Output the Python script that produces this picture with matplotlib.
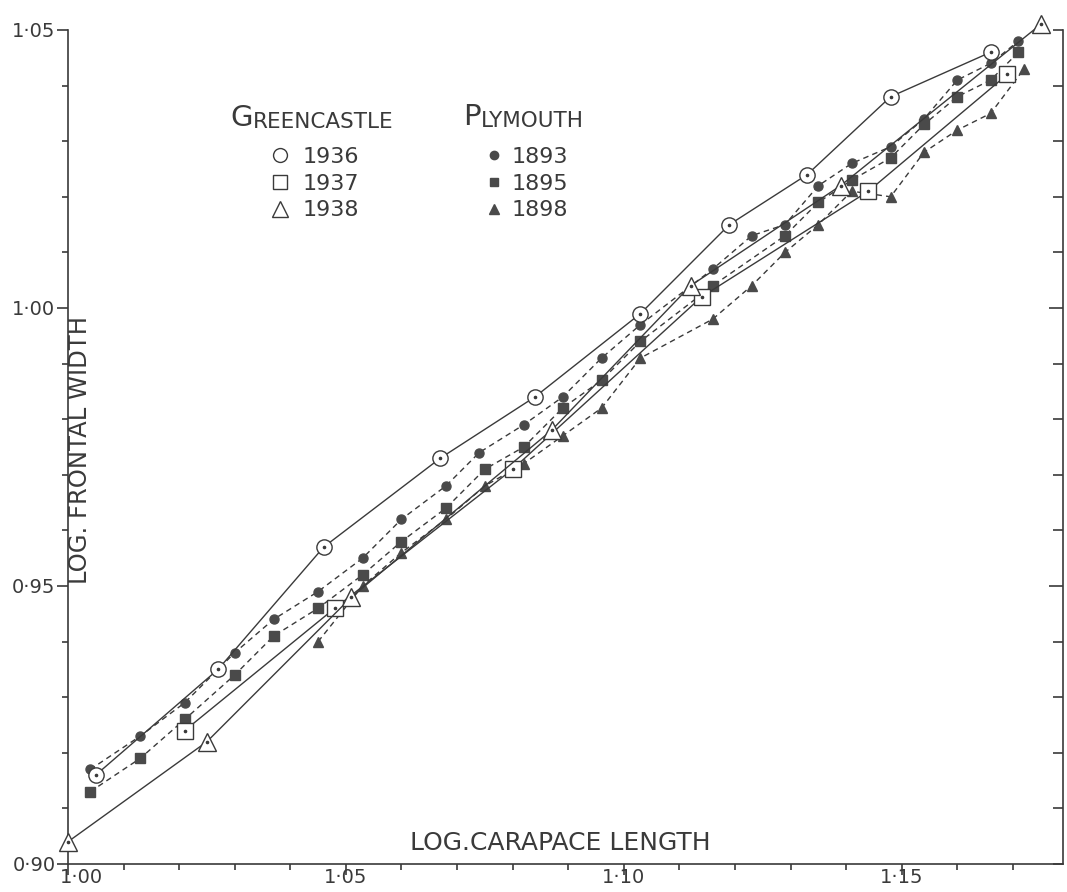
import matplotlib
matplotlib.use("Agg")
import matplotlib.pyplot as plt
import matplotlib.transforms as mtransforms
from matplotlib.lines import Line2D
from matplotlib.ticker import MultipleLocator, FixedLocator

# Greencastle (open markers, solid lines)
gc36_x = [1.005, 1.027, 1.046, 1.067, 1.084, 1.103, 1.119, 1.133, 1.148, 1.166]
gc36_y = [0.916, 0.935, 0.957, 0.973, 0.984, 0.999, 1.015, 1.024, 1.038, 1.046]

gc37_x = [1.021, 1.048, 1.080, 1.114, 1.144, 1.169]
gc37_y = [0.924, 0.946, 0.971, 1.002, 1.021, 1.042]

gc38_x = [1.000, 1.025, 1.051, 1.087, 1.112, 1.139, 1.175]
gc38_y = [0.904, 0.922, 0.948, 0.978, 1.004, 1.022, 1.051]

# Plymouth (filled markers, dashed lines)
ply93_x = [1.004, 1.013, 1.021, 1.030, 1.037, 1.045, 1.053, 1.060, 1.068, 1.074, 1.082,
           1.089, 1.096, 1.103, 1.116, 1.123, 1.129, 1.135, 1.141, 1.148, 1.154, 1.160,
           1.166, 1.171]
ply93_y = [0.917, 0.923, 0.929, 0.938, 0.944, 0.949, 0.955, 0.962, 0.968, 0.974, 0.979,
           0.984, 0.991, 0.997, 1.007, 1.013, 1.015, 1.022, 1.026, 1.029, 1.034, 1.041,
           1.044, 1.048]

ply95_x = [1.004, 1.013, 1.021, 1.030, 1.037, 1.045, 1.053, 1.060, 1.068, 1.075, 1.082,
           1.089, 1.096, 1.103, 1.116, 1.129, 1.135, 1.141, 1.148, 1.154, 1.160, 1.166,
           1.171]
ply95_y = [0.913, 0.919, 0.926, 0.934, 0.941, 0.946, 0.952, 0.958, 0.964, 0.971, 0.975,
           0.982, 0.987, 0.994, 1.004, 1.013, 1.019, 1.023, 1.027, 1.033, 1.038, 1.041,
           1.046]

ply98_x = [1.045, 1.053, 1.060, 1.068, 1.075, 1.082, 1.089, 1.096, 1.103, 1.116, 1.123,
           1.129, 1.135, 1.141, 1.148, 1.154, 1.160, 1.166, 1.172]
ply98_y = [0.940, 0.950, 0.956, 0.962, 0.968, 0.972, 0.977, 0.982, 0.991, 0.998, 1.004,
           1.010, 1.015, 1.021, 1.020, 1.028, 1.032, 1.035, 1.043]

x_ticks = [1.00, 1.05, 1.10, 1.15]
x_labels = ["1·00", "1·05", "1·10", "1·15"]
y_ticks = [0.90, 0.95, 1.00, 1.05]
y_labels = ["0·90", "0·95", "1·00", "1·05"]

ink = "#3a3a3a"
fill = "#4a4a4a"
plt.rcParams["font.family"] = "DejaVu Sans"

fig = plt.figure(figsize=(10.67, 8.92), dpi=100)
ax = fig.add_axes([0.0637, 0.0314, 0.9325, 0.935])

# solid lines with open markers, a dot in the middle
open_kw = dict(color=ink, lw=1.0, mfc="white", mec=ink, mew=1.0, clip_on=False, zorder=3)
ax.plot(gc36_x, gc36_y, marker="o", ms=11, **open_kw)
ax.plot(gc37_x, gc37_y, marker="s", ms=11.5, **open_kw)
ax.plot(gc38_x, gc38_y, marker="^", ms=13, **open_kw)
for xs, ys in [(gc36_x, gc36_y), (gc37_x, gc37_y), (gc38_x, gc38_y)]:
    ax.plot(xs, ys, ls="none", marker="o", ms=1.6, color=ink, clip_on=False, zorder=4)

dash_kw = dict(color=ink, lw=1.0, ls=(0, (4, 3)), mfc=fill, mec=fill, clip_on=False, zorder=2)
ax.plot(ply93_x, ply93_y, marker="o", ms=6.5, **dash_kw)
ax.plot(ply95_x, ply95_y, marker="s", ms=6.5, **dash_kw)
ax.plot(ply98_x, ply98_y, marker="^", ms=7.5, **dash_kw)

ax.set_xlim(1.00, 1.179)
ax.set_ylim(0.90, 1.05)

for s in ["top", "right"]:
    ax.spines[s].set_visible(False)
for s in ["left", "bottom"]:
    ax.spines[s].set_color(ink)
    ax.spines[s].set_linewidth(1.2)

ax.xaxis.set_major_locator(FixedLocator(x_ticks))
ax.set_xticklabels(x_labels)
ax.xaxis.set_minor_locator(MultipleLocator(0.01))
ax.yaxis.set_major_locator(FixedLocator(y_ticks))
ax.set_yticklabels(y_labels)
ax.yaxis.set_minor_locator(MultipleLocator(0.01))
ax.tick_params(which="major", direction="out", length=8, width=1.2, color=ink,
               labelsize=14, labelcolor=ink)
ax.tick_params(axis="x", which="major", pad=-5)
ax.tick_params(axis="y", which="major", pad=1)
ax.tick_params(which="minor", direction="out", length=4.5, width=1.2, color=ink)

# the first carapace label sits a little right of its tick, clear of 0·90
first = ax.get_xticklabels()[0]
first.set_transform(first.get_transform() +
                    mtransforms.ScaledTranslation(10 / 72, 0, fig.dpi_scale_trans))

# right-hand scale: ticks pointing inwards, no labels
ax2 = ax.twinx()
ax2.set_ylim(0.90, 1.05)
for s in ["top", "left", "bottom"]:
    ax2.spines[s].set_visible(False)
ax2.spines["right"].set_color(ink)
ax2.spines["right"].set_linewidth(1.2)
ax2.yaxis.set_major_locator(FixedLocator([0.95, 1.00]))
ax2.yaxis.set_minor_locator(MultipleLocator(0.01))
ax2.tick_params(which="major", direction="in", length=10, width=1.2, color=ink, labelright=False)
ax2.tick_params(which="minor", direction="in", length=7, width=1.2, color=ink)

# axis titles drawn inside the frame
ax.text(1.0885, 0.9016, "LOG.CARAPACE LENGTH", ha="center", va="bottom",
        fontsize=18, color=ink)
ax.text(1.0022, 0.9745, "LOG. FRONTAL WIDTH", rotation=90, ha="center", va="center",
        fontsize=17.5, color=ink)

# legend headings in small capitals
def small_caps(x, y, first, rest):
    t = ax.text(x, y, first, transform=ax.transAxes, fontsize=21, color=ink, va="bottom")
    ax.annotate(rest, xy=(1, 0), xycoords=t, va="bottom", fontsize=15.5, color=ink)

small_caps(0.1628, 0.878, "G", "REENCASTLE")
small_caps(0.397, 0.879, "P", "LYMOUTH")

gc_handles = [Line2D([], [], ls="none", marker=m, ms=s, mfc="white", mec=ink, mew=1.0)
              for m, s in [("o", 10), ("s", 10), ("^", 11)]]
leg1 = ax.legend(gc_handles, ["1936", "1937", "1938"], loc="upper left",
                 bbox_to_anchor=(0.191, 0.873), frameon=False, fontsize=16,
                 handlelength=1.0, handletextpad=0.5, labelspacing=0.3, borderpad=0,
                 labelcolor=ink)
ax.add_artist(leg1)

ply_handles = [Line2D([], [], ls="none", marker=m, ms=s, mfc=fill, mec=fill)
               for m, s in [("o", 6), ("s", 6), ("^", 7)]]
ax.legend(ply_handles, ["1893", "1895", "1898"], loc="upper left",
          bbox_to_anchor=(0.406, 0.873), frameon=False, fontsize=16,
          handlelength=1.0, handletextpad=0.3, labelspacing=0.3, borderpad=0,
          labelcolor=ink)

fig.savefig("out.png", dpi=100)
